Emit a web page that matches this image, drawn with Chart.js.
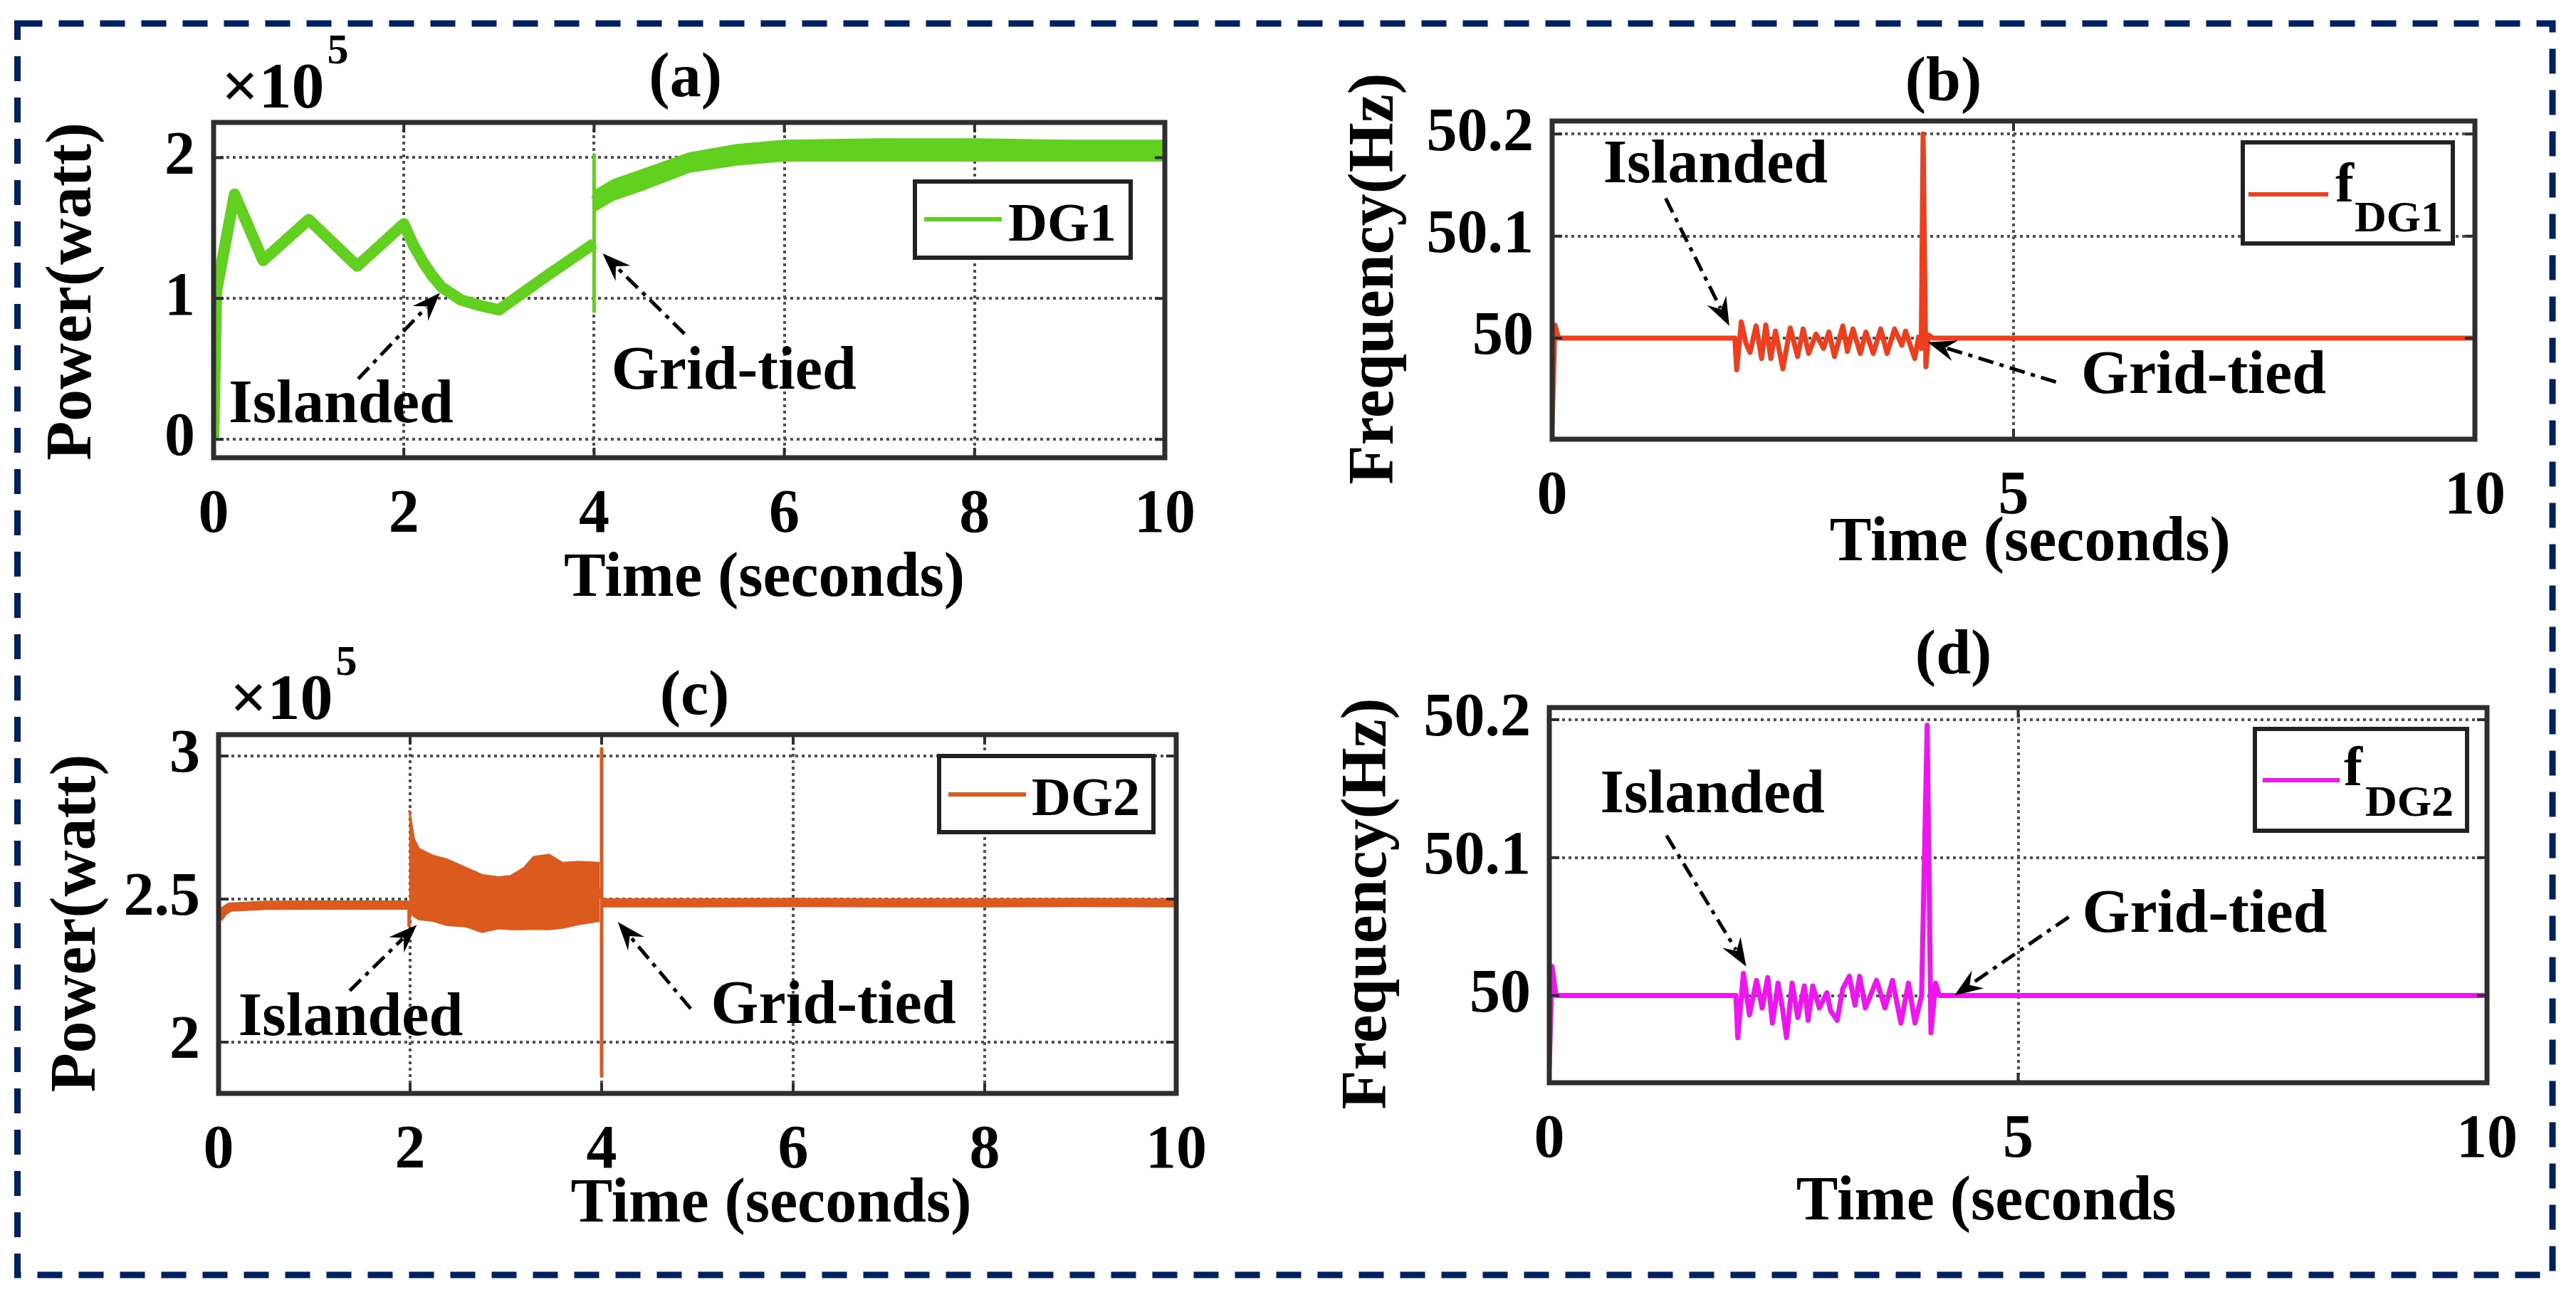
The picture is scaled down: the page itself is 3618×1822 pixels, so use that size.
<!DOCTYPE html>
<html>
<head>
<meta charset="utf-8">
<title>DG power and frequency – islanded / grid-tied</title>
<script src="https://cdn.jsdelivr.net/npm/chart.js@4.4.1/dist/chart.umd.min.js"></script>
<style>
html, body { margin:0; padding:0; background:#ffffff; }
#stage { position:relative; width:3618px; height:1822px; overflow:hidden; background:#ffffff; }
#stage canvas { position:absolute; left:0; top:0; }
</style>
</head>
<body>
<div id="stage">
<canvas id="chartA" width="3618" height="1822"></canvas>
<canvas id="chartB" width="3618" height="1822"></canvas>
<canvas id="chartC" width="3618" height="1822"></canvas>
<canvas id="chartD" width="3618" height="1822"></canvas>
</div>
<script>
// ---------------- DATA ----------------
// Tick values
const xTicksPower = [0, 2, 4, 6, 8, 10];
const xTicksFreq  = [0, 5, 10];
const yTicksA = [0, 1, 2];          // x 10^5 W
const yTicksB = [50, 50.1, 50.2];   // Hz
const yTicksC = [2, 2.5, 3];        // x 10^5 W
const yTicksD = [50, 50.1, 50.2];   // Hz

// (a) DG1 power, units of 10^5 W
const dg1Time  = [0, 0.03, 0.22, 0.52, 1.0, 1.51, 2.0, 2.1, 2.2, 2.3, 2.4, 2.6, 2.8, 3.0, 3.5, 4.0, 4.0, 4.0, 4.0, 4.2, 4.5, 5.0, 5.5, 6.0, 7.0, 8.0, 9.0, 10.0];
const dg1Power = [0, 1.05, 1.74, 1.27, 1.56, 1.23, 1.53, 1.38, 1.26, 1.16, 1.08, 0.99, 0.95, 0.92, 1.16, 1.39, 2.02, 0.91, 1.69, 1.77, 1.84, 1.96, 2.02, 2.05, 2.055, 2.05, 2.05, 2.05];
// ripple envelope of DG1 after reconnection
const dg1BandTime = [4.0, 4.2, 4.5, 5.0, 5.5, 6.0, 7.0, 8.0, 9.0, 10.0];
const dg1BandHigh = [1.76, 1.84, 1.91, 2.03, 2.09, 2.12, 2.13, 2.13, 2.12, 2.12];
const dg1BandLow  = [1.62, 1.70, 1.77, 1.90, 1.95, 1.98, 1.98, 1.98, 1.98, 1.98];

// (b) DG1 frequency, Hz
const fdg1Time = [0, 0.03, 0.07, 1.98, 2.0, 2.05, 2.10, 2.145, 2.21, 2.27, 2.315, 2.37, 2.42, 2.50, 2.58, 2.66, 2.72, 2.78, 2.86, 2.94, 3.00, 3.06, 3.15, 3.20, 3.26, 3.34, 3.40, 3.48, 3.56, 3.63, 3.71, 3.79, 3.83, 3.93, 3.97, 4.00, 4.02, 4.05, 4.08, 4.13, 10];
const fdg1Freq = [49.915, 50.013, 50.0, 50.0, 49.969, 50.016, 49.995, 49.986, 50.012, 49.980, 50.013, 49.980, 50.007, 49.970, 50.010, 49.982, 50.009, 49.985, 50.004, 49.990, 50.006, 49.982, 50.012, 49.987, 50.009, 49.985, 50.006, 49.985, 50.009, 49.985, 50.009, 49.993, 50.007, 49.980, 50.001, 49.990, 50.200, 49.972, 50.003, 50.0, 50.0];

// (c) DG2 power, units of 10^5 W
const dg2Time  = [0, 0.05, 0.12, 0.5, 1.0, 1.5, 1.99, 1.99, 1.99, 2.5, 3.0, 3.5, 4.0, 4.0, 4.0, 4.0, 5, 6, 7, 8, 9, 10];
const dg2Power = [2.433, 2.457, 2.472, 2.478, 2.479, 2.479, 2.479, 2.408, 2.479, 2.50, 2.49, 2.52, 2.52, 3.025, 1.882, 2.487, 2.487, 2.488, 2.487, 2.487, 2.488, 2.487];
// ripple envelope of DG2 while islanded
const dg2BandTime = [1.99, 2.04, 2.09, 2.24, 2.38, 2.58, 2.75, 2.92, 3.05, 3.19, 3.29, 3.45, 3.59, 3.76, 3.98];
const dg2BandHigh = [2.811, 2.71, 2.676, 2.651, 2.639, 2.609, 2.584, 2.576, 2.58, 2.609, 2.647, 2.655, 2.626, 2.63, 2.626];
const dg2BandLow  = [2.466, 2.44, 2.43, 2.424, 2.41, 2.405, 2.385, 2.398, 2.395, 2.395, 2.396, 2.395, 2.40, 2.412, 2.424];

// (d) DG2 frequency, Hz
const fdg2Time = [0, 0.03, 0.07, 1.99, 2.01, 2.07, 2.135, 2.21, 2.27, 2.33, 2.38, 2.44, 2.49, 2.53, 2.59, 2.65, 2.72, 2.76, 2.81, 2.88, 2.96, 3.00, 3.07, 3.13, 3.20, 3.26, 3.31, 3.37, 3.49, 3.58, 3.66, 3.75, 3.83, 3.90, 3.97, 4.03, 4.07, 4.12, 4.16, 10];
const fdg2Freq = [49.948, 50.021, 50.0, 50.0, 49.9695, 50.016, 49.986, 50.011, 49.991, 50.013, 49.980, 50.009, 49.989, 49.9695, 50.009, 49.984, 50.007, 49.982, 50.007, 49.991, 50.002, 49.989, 49.982, 50.005, 50.014, 49.993, 50.014, 49.991, 50.011, 49.991, 50.011, 49.980, 50.009, 49.980, 50.0, 50.196, 49.973, 50.009, 50.0, 50.0];

// ---------------- STYLE ----------------
const PAGE_W = 3618, PAGE_H = 1822;
const AXIS_W = 230, AXIS_H = 200;
const SERIF = '"Liberation Serif", "Times New Roman", Times, serif';
const C_DG1 = '#62d01e', C_F1 = '#ee3e1e', C_DG2 = '#dc5a1e', C_F2 = '#f014f0';
const GRID_COLOR = '#505050', FRAME_COLOR = '#2e2e2e', NAVY = '#002060';

function toPoints(xs, ys) { return xs.map((x, i) => ({ x: x, y: ys[i] })); }
function tickText(v) { return String(Math.round(v * 1000) / 1000); }

function traceDataset(label, xs, ys, color, thick, thin) {
  return {
    label: label, data: toPoints(xs, ys), borderColor: color, backgroundColor: color,
    borderWidth: thick, fill: false, pointRadius: 0, tension: 0,
    borderJoinStyle: 'round', borderCapStyle: 'butt',
    segment: { borderWidth: c => (c.p0.parsed.x === c.p1.parsed.x ? thin : thick) }
  };
}
function bandDatasets(label, xs, hi, lo, color) {
  return [
    { label: label + ' max', data: toPoints(xs, hi), borderColor: color, backgroundColor: color,
      borderWidth: 3, fill: '+1', pointRadius: 0, tension: 0 },
    { label: label + ' min', data: toPoints(xs, lo), borderColor: color, backgroundColor: color,
      borderWidth: 3, fill: false, pointRadius: 0, tension: 0 }
  ];
}

function drawArrow(ctx, x1, y1, x2, y2) {
  const ang = Math.atan2(y2 - y1, x2 - x1), c = Math.cos(ang), s = Math.sin(ang);
  const L = 40, Wd = 15;
  ctx.save();
  ctx.strokeStyle = '#000'; ctx.fillStyle = '#000'; ctx.lineWidth = 5;
  ctx.setLineDash([22, 9, 6, 9]);
  ctx.beginPath(); ctx.moveTo(x1, y1); ctx.lineTo(x2 - c * L * 0.7, y2 - s * L * 0.7); ctx.stroke();
  ctx.setLineDash([]);
  ctx.beginPath();
  ctx.moveTo(x2, y2);
  ctx.lineTo(x2 - c * L - s * Wd, y2 - s * L + c * Wd);
  ctx.lineTo(x2 - c * L * 0.65, y2 - s * L * 0.65);
  ctx.lineTo(x2 - c * L + s * Wd, y2 - s * L - c * Wd);
  ctx.closePath(); ctx.fill();
  ctx.restore();
}

function drawDeco(chart, p) {
  const ctx = chart.ctx, a = chart.chartArea, xs = chart.scales.x, ys = chart.scales.y;
  const X = t => xs.getPixelForValue(t), Y = v => ys.getPixelForValue(v);
  ctx.save();
  ctx.setLineDash([]);
  // inner tick marks
  ctx.strokeStyle = FRAME_COLOR; ctx.lineWidth = 4;
  ctx.beginPath();
  p.xTicks.forEach(t => { const px = X(t); ctx.moveTo(px, a.bottom); ctx.lineTo(px, a.bottom - 14); ctx.moveTo(px, a.top); ctx.lineTo(px, a.top + 14); });
  p.yTicks.forEach(v => { const py = Y(v); ctx.moveTo(a.left, py); ctx.lineTo(a.left + 14, py); ctx.moveTo(a.right, py); ctx.lineTo(a.right - 14, py); });
  ctx.stroke();
  // axes box
  ctx.lineWidth = 7; ctx.strokeRect(a.left, a.top, a.right - a.left, a.bottom - a.top);

  // legend
  const L = p.legend;
  ctx.fillStyle = '#ffffff';
  ctx.fillRect(a.right + L.bx, a.top + L.by, L.bw, L.bh);
  ctx.strokeStyle = '#222'; ctx.lineWidth = 6;
  ctx.strokeRect(a.right + L.bx, a.top + L.by, L.bw, L.bh);
  ctx.strokeStyle = p.color; ctx.lineWidth = 6;
  ctx.beginPath(); ctx.moveTo(a.right + L.l1, a.top + L.ly); ctx.lineTo(a.right + L.l2, a.top + L.ly); ctx.stroke();
  ctx.fillStyle = '#000'; ctx.textAlign = 'left'; ctx.textBaseline = 'alphabetic';
  ctx.font = 'bold ' + L.size + 'px ' + SERIF;
  ctx.fillText(L.main, a.right + L.tx, a.top + L.ty);
  if (L.sub) {
    ctx.font = 'bold ' + L.subSize + 'px ' + SERIF;
    ctx.fillText(L.sub, a.right + L.sx, a.top + L.sy);
  }

  // annotations
  ctx.fillStyle = '#000'; ctx.textAlign = 'center'; ctx.textBaseline = 'alphabetic';
  ctx.font = 'bold 86px ' + SERIF;
  p.notes.forEach(n => {
    ctx.fillText(n.text, X(n.t), Y(n.v));
    drawArrow(ctx, X(n.tail[0]), Y(n.tail[1]), X(n.head[0]), Y(n.head[1]));
  });

  // panel letter & axis titles
  ctx.font = 'bold 88px ' + SERIF;
  ctx.fillText(p.letter, X(p.letterT), a.top + p.letterDy);
  ctx.fillText(p.xTitle, X(p.xTitleT), a.bottom + p.xTitleDy);
  ctx.save();
  ctx.translate(a.left + p.yTitleDx, (a.top + a.bottom) / 2 + p.yTitleDy);
  ctx.rotate(-Math.PI / 2);
  ctx.textBaseline = 'middle';
  ctx.font = 'bold 90px ' + SERIF;
  ctx.fillText(p.yTitle, 0, 0);
  ctx.restore();

  // exponent label
  if (p.exp) {
    ctx.textAlign = 'left'; ctx.textBaseline = 'alphabetic';
    ctx.font = 'bold 92px ' + SERIF;
    const bx = a.left + p.exp.dx, by = a.top + p.exp.dy;
    ctx.fillText('\u00d710', bx, by);
    const w = ctx.measureText('\u00d710').width;
    ctx.font = 'bold 60px ' + SERIF;
    ctx.fillText('5', bx + w + 4, by - 62);
  }

  // dashed page frame
  if (p.pageBorder) {
    ctx.strokeStyle = NAVY; ctx.lineWidth = 9; ctx.setLineDash([35, 23]);
    ctx.strokeRect(24.5, 33, 3585 - 24.5, 1791 - 33);
    ctx.setLineDash([]);
  }
  ctx.restore();
}

function makeChart(id, p) {
  const area = p.area;
  return new Chart(document.getElementById(id), {
    type: 'line',
    data: { datasets: p.datasets },
    options: {
      responsive: false, maintainAspectRatio: false, animation: false, devicePixelRatio: 1, events: [],
      layout: { autoPadding: false, padding: { left: area.left - AXIS_W, top: area.top, right: PAGE_W - area.right, bottom: PAGE_H - area.bottom - AXIS_H } },
      plugins: { legend: { display: false }, tooltip: { enabled: false }, title: { display: false } },
      scales: {
        x: {
          type: 'linear', position: 'bottom', min: 0, max: 10,
          afterBuildTicks: s => { s.ticks = p.xTicks.map(v => ({ value: v })); },
          afterFit: s => { s.height = AXIS_H; },
          grid: { color: GRID_COLOR, lineWidth: 4, drawTicks: false },
          border: { display: false, dash: [4, 5] },
          ticks: { padding: 39, color: '#000', maxRotation: 0, autoSkip: false,
                   font: { family: SERIF, size: 86, weight: 'bold', lineHeight: 1 }, callback: v => tickText(v) }
        },
        y: {
          type: 'linear', position: 'left', min: p.yMin, max: p.yMax,
          afterBuildTicks: s => { s.ticks = p.yTicks.map(v => ({ value: v })); },
          afterFit: s => { s.width = AXIS_W; },
          grid: { color: GRID_COLOR, lineWidth: 4, drawTicks: false },
          border: { display: false, dash: [4, 5] },
          ticks: { padding: 26, color: '#000', autoSkip: false,
                   font: { family: SERIF, size: 86, weight: 'bold', lineHeight: 1 }, callback: v => tickText(v) }
        }
      }
    },
    plugins: [{ id: 'deco_' + id, afterDraw: chart => drawDeco(chart, p) }]
  });
}

// ---------------- PANELS ----------------
makeChart('chartA', {
  area: { left: 300, top: 172, right: 1636, bottom: 643 },
  yMin: -0.13, yMax: 2.25, xTicks: xTicksPower, yTicks: yTicksA, color: C_DG1,
  datasets: [traceDataset('DG1', dg1Time, dg1Power, C_DG1, 16, 5)].concat(bandDatasets('DG1', dg1BandTime, dg1BandHigh, dg1BandLow, C_DG1)),
  letter: '(a)', letterT: 4.96, letterDy: -37,
  xTitle: 'Time (seconds)', xTitleT: 5.79, xTitleDy: 194,
  yTitle: 'Power(watt)', yTitleDx: -196, yTitleDy: 2,
  exp: { dx: 11, dy: -21 },
  legend: { bx: -351, by: 83, bw: 303, bh: 107, l1: -338, l2: -229, ly: 136, main: 'DG1', tx: -220, ty: 166, size: 76 },
  notes: [
    { text: 'Islanded', t: 1.34, v: 0.121, tail: [1.52, 0.43], head: [2.38, 1.04] },
    { text: 'Grid-tied', t: 5.47, v: 0.359, tail: [4.95, 0.75], head: [4.09, 1.32] }
  ],
  pageBorder: true
});

makeChart('chartB', {
  area: { left: 2180, top: 170, right: 3476, bottom: 617 },
  yMin: 49.901, yMax: 50.2128, xTicks: xTicksFreq, yTicks: yTicksB, color: C_F1,
  datasets: [traceDataset('fDG1', fdg1Time, fdg1Freq, C_F1, 7, 6)],
  letter: '(b)', letterT: 4.24, letterDy: -29,
  xTitle: 'Time (seconds)', xTitleT: 5.18, xTitleDy: 170,
  yTitle: 'Frequency(Hz)', yTitleDx: -247, yTitleDy: -2,
  legend: { bx: -326, by: 30, bw: 295, bh: 142, l1: -318, l2: -206, ly: 103, main: 'f', tx: -196, ty: 113, size: 78, sub: 'DG1', sx: -169, sy: 155, subSize: 62 },
  notes: [
    { text: 'Islanded', t: 1.77, v: 50.153, tail: [1.23, 50.137], head: [1.92, 50.012] },
    { text: 'Grid-tied', t: 7.06, v: 49.946, tail: [5.46, 49.957], head: [4.07, 49.996] }
  ]
});

makeChart('chartC', {
  area: { left: 307, top: 1032, right: 1652, bottom: 1536 },
  yMin: 1.821, yMax: 3.0746, xTicks: xTicksPower, yTicks: yTicksC, color: C_DG2,
  datasets: [traceDataset('DG2', dg2Time, dg2Power, C_DG2, 13, 5)].concat(bandDatasets('DG2', dg2BandTime, dg2BandHigh, dg2BandLow, C_DG2)),
  letter: '(c)', letterT: 4.97, letterDy: -29,
  xTitle: 'Time (seconds)', xTitleT: 5.77, xTitleDy: 180,
  yTitle: 'Power(watt)', yTitleDx: -197, yTitleDy: 13,
  exp: { dx: 16, dy: -22 },
  legend: { bx: -333, by: 30, bw: 301, bh: 107, l1: -320, l2: -211, ly: 84, main: 'DG2', tx: -203, ty: 113, size: 76 },
  notes: [
    { text: 'Islanded', t: 1.38, v: 2.025, tail: [1.37, 2.18], head: [2.07, 2.41] },
    { text: 'Grid-tied', t: 6.42, v: 2.067, tail: [4.93, 2.117], head: [4.17, 2.42] }
  ]
});

makeChart('chartD', {
  area: { left: 2176, top: 994, right: 3493, bottom: 1521 },
  yMin: 49.9368, yMax: 50.2088, xTicks: xTicksFreq, yTicks: yTicksD, color: C_F2,
  datasets: [traceDataset('fDG2', fdg2Time, fdg2Freq, C_F2, 7, 6)],
  letter: '(d)', letterT: 4.31, letterDy: -48,
  xTitle: 'Time (seconds', xTitleT: 4.66, xTitleDy: 192,
  yTitle: 'Frequency(Hz)', yTitleDx: -253, yTitleDy: 12,
  legend: { bx: -326, by: 30, bw: 298, bh: 143, l1: -315, l2: -207, ly: 102, main: 'f', tx: -201, ty: 109, size: 78, sub: 'DG2', sx: -171, sy: 152, subSize: 62 },
  notes: [
    { text: 'Islanded', t: 1.74, v: 50.133, tail: [1.25, 50.116], head: [2.10, 50.021] },
    { text: 'Grid-tied', t: 6.99, v: 50.046, tail: [5.54, 50.057], head: [4.32, 50.0] }
  ]
});
</script>
</body>
</html>
